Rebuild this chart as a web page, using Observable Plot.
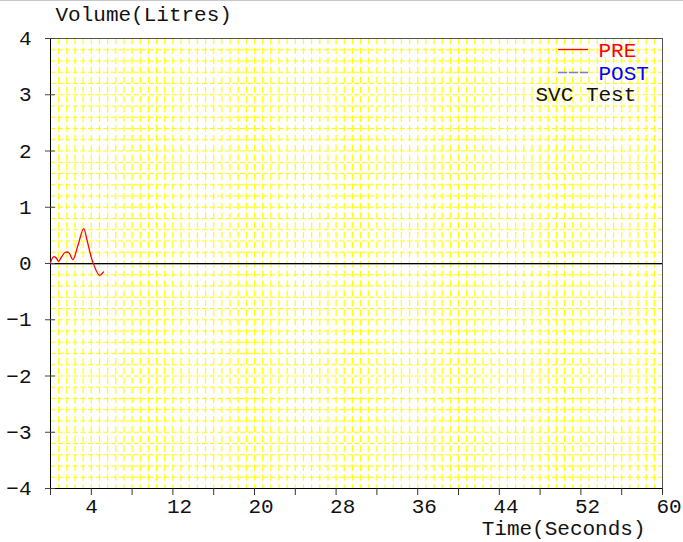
<!DOCTYPE html>
<html>
<head>
<meta charset="utf-8">
<script src="https://cdn.jsdelivr.net/npm/d3@7"></script>
<script src="https://cdn.jsdelivr.net/npm/@observablehq/plot@0.6"></script>
<style>
  html, body { margin: 0; padding: 0; background: #fff; }
  #wrap { position: relative; width: 683px; height: 542px; overflow: hidden; }
  #topline { position: absolute; left: 0; top: 0; width: 683px; height: 1px; background: #c8c8c8; }
</style>
</head>
<body>
<div id="wrap"><div id="topline"></div></div>
<script>
// PRE curve (time in seconds, volume in litres)
const preTime   = [0, 0.3, 0.55, 0.8, 1.1, 1.45, 1.8, 2.2, 2.7, 3.25, 3.6, 4.1, 4.8, 5.2];
const preVolume = [0.02, 0.12, 0.1, 0.04, 0.12, 0.2, 0.19, 0.07, 0.33, 0.62, 0.4, 0.05, -0.21, -0.15];
// POST curve: no data shown
const postTime = [];
const postVolume = [];

const xTicks = [0, 4, 8, 12, 16, 20, 24, 28, 32, 36, 40, 44, 48, 52, 56, 60];
const xTickLabels = [4, 12, 20, 28, 36, 44, 52, 60];
const yTicks = [-4, -3, -2, -1, 0, 1, 2, 3, 4];
const xGridStep = 0.8;
const yGridStep = 0.2;

const legendLabels = ["PRE", "POST"];
const legendColors = ["#ff0000", "#0000ff"];
const legendLineColors = ["#ff0000", "#7a7ad8"];
const testName = "SVC Test";

const pre = preTime.map((t, i) => ({t, v: preVolume[i]}));
const post = postTime.map((t, i) => ({t, v: postVolume[i]}));
const xGrid = d3.range(0, 60 + 1e-9, xGridStep);
const yGrid = d3.range(-4, 4 + 1e-9, yGridStep);

function legendLines(index, scales, values, dims) {
  const g = d3.create("svg:g");
  const xr = dims.width - dims.marginRight;
  legendLabels.forEach((d, i) => {
    const line = g.append("line")
      .attr("x1", xr - 104).attr("x2", xr - 74)
      .attr("y1", dims.marginTop + 11.5 + i * 23).attr("y2", dims.marginTop + 11.5 + i * 23)
      .attr("stroke", legendLineColors[i]).attr("stroke-width", 1.3);
    if (i === 1) line.attr("stroke-dasharray", "9,2");
  });
  return g.node();
}

const fmtY = d => d < 0 ? "\u2212" + (-d) : String(d);
const textStyle = {fill: "#111", fontSize: 21, lineAnchor: "middle"};

const chart = Plot.plot({
  width: 683,
  height: 542,
  marginTop: 38,
  marginBottom: 54,
  marginLeft: 50,
  marginRight: 21,
  style: {fontFamily: "'Liberation Mono', 'Courier New', monospace", fontSize: "21px", color: "#111", background: "#fff"},
  x: {domain: [0, 60]},
  y: {domain: [-4, 4]},
  marks: [
    Plot.gridX(xGrid, {stroke: "#ffff00", strokeOpacity: 1, strokeWidth: 1.2, strokeDasharray: "6.3,3.4"}),
    Plot.gridY(yGrid, {stroke: "#ffff00", strokeOpacity: 1, strokeWidth: 1.2, strokeDasharray: "5.2,2.4"}),
    Plot.frame({stroke: "#555"}),
    Plot.ruleY([0], {stroke: "#aaa", dy: 1}),
    Plot.ruleY([0], {stroke: "#000"}),
    Plot.ruleX([0], {stroke: "#000"}),
    Plot.ruleY([-4], {stroke: "#000"}),
    Plot.axisY({ticks: yTicks, tickFormat: fmtY, label: null, tickSize: 5, tickPadding: 14, stroke: "#444", fill: "#111", fontSize: 21}),
    Plot.ruleY(yTicks, {x1: 0, x2: 0.5, stroke: "#444"}),
    Plot.axisX({ticks: xTicks, tickSize: 7, stroke: "#333", tickFormat: () => "", label: null}),
    Plot.text(xTickLabels, {x: d => d, frameAnchor: "bottom", dy: 18, dx: -6, textAnchor: "start", ...textStyle}),
    Plot.line(post, {x: "t", y: "v", stroke: "#0000ff", curve: "catmull-rom"}),
    Plot.line(pre, {x: "t", y: "v", stroke: "#ff0000", strokeWidth: 1.3, curve: "catmull-rom"}),
    Plot.text(["Volume(Litres)"], {frameAnchor: "top-left", dx: 5, dy: -24, textAnchor: "start", ...textStyle}),
    Plot.text(["Time(Seconds)"], {frameAnchor: "bottom-right", dx: -17, dy: 40, textAnchor: "end", ...textStyle}),
    legendLines,
    Plot.text([legendLabels[0]], {frameAnchor: "top-right", dx: -64, dy: 12, textAnchor: "start", lineAnchor: "middle", fill: legendColors[0], fontSize: 21}),
    Plot.text([legendLabels[1]], {frameAnchor: "top-right", dx: -64, dy: 35, textAnchor: "start", lineAnchor: "middle", fill: legendColors[1], fontSize: 21}),
    Plot.text([testName], {frameAnchor: "top-right", dx: -127, dy: 56, textAnchor: "start", ...textStyle})
  ]
});
document.getElementById("wrap").appendChild(chart);
</script>
</body>
</html>
